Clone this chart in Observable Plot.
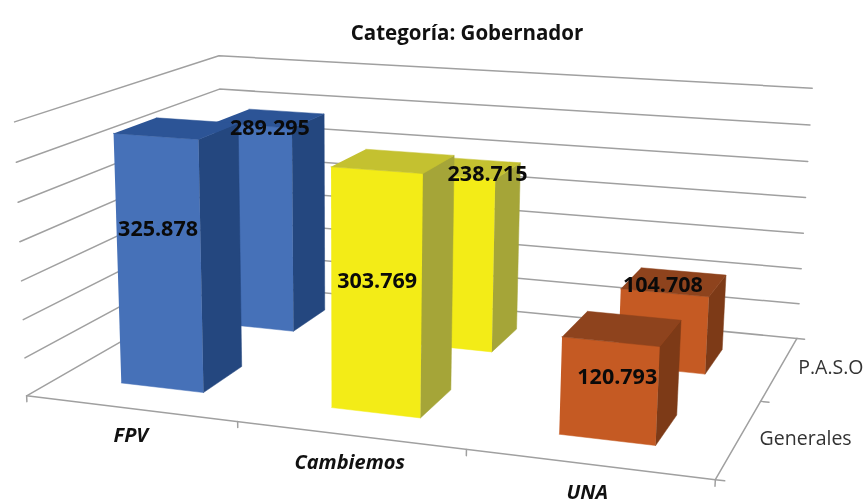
<!DOCTYPE html>
<html><head><meta charset="utf-8">
<script src="https://cdn.jsdelivr.net/npm/d3@7"></script>
<script src="https://cdn.jsdelivr.net/npm/@observablehq/plot@0.6"></script>
<style>html,body{margin:0;padding:0;background:#fff}svg{display:block}</style>
</head><body><div id="chart"></div>
<script>
const title = "Categoría: Gobernador";
const categories = ["FPV", "Cambiemos", "UNA"];
const seriesNames = ["Generales", "P.A.S.O"];
const generales = [325878, 303769, 120793];
const paso = [289295, 238715, 104708];
const valueLabels = [["325.878","303.769","120.793"],["289.295","238.715","104.708"]];
const levels = [0, 50000, 100000, 150000, 200000, 250000, 300000, 350000];
const maxValue = 350000;
const frontColors = ["#4671b8", "#f3ec17", "#c55a23"];
const sideColors = ["#24477f", "#a5a538", "#7d3a17"];
const topColors = ["#2c5496", "#c4c130", "#8e431d"];
// label placement: share of bar height on the front face, px nudge
const labelFrac = [[0.64, 0.55, 0.64], [0.985, 1.015, 1.1]];
const labelNudge = [[0, 1, 8], [17, 34, -2]];
const seriesNudge = [3, -6];

// Camera calibrated on the chart box corners: [u, d, v] -> screen
const cal = [
  [0,0,0,28,394],[1,0,0,715,480],[1,1,0,797,337],[0,1,0,220,284],
  [0,0,1,12,122],[0,1,1,220,55],[1,1,1,811,88],[0,1,6/7,220,88]
];
function solve(A, b) {
  const n = b.length, M = A.map((r, i) => [...r, b[i]]);
  for (let c = 0; c < n; c++) {
    let p = c; for (let r = c + 1; r < n; r++) if (Math.abs(M[r][c]) > Math.abs(M[p][c])) p = r;
    [M[c], M[p]] = [M[p], M[c]];
    for (let r = 0; r < n; r++) if (r !== c) { const f = M[r][c] / M[c][c]; for (let k = c; k <= n; k++) M[r][k] -= f * M[c][k]; }
  }
  return M.map((r, i) => r[n] / r[i]);
}
const rows = [], rhs = [];
for (const [u, d, v, x, y] of cal) {
  rows.push([u, d, v, 1, 0, 0, 0, 0, -x*u, -x*d, -x*v]); rhs.push(x);
  rows.push([0, 0, 0, 0, u, d, v, 1, -y*u, -y*d, -y*v]); rhs.push(y);
}
const ATA = d3.range(11).map(i => d3.range(11).map(j => d3.sum(rows, r => r[i]*r[j])));
const ATb = d3.range(11).map(i => d3.sum(rows, (r, k) => r[i]*rhs[k]));
const P = solve(ATA, ATb);
function project(u, d, v) {
  const w = P[8]*u + P[9]*d + P[10]*v + 1;
  return { x: (P[0]*u + P[1]*d + P[2]*v + P[3]) / w, y: (P[4]*u + P[5]*d + P[6]*v + P[7]) / w };
}
const gapU = 0.3, gapD = 0.3;
const marks = [];
const seg = (pts, o) => Plot.line(pts.map(p => project(...p)), {x: "x", y: "y", stroke: "#a0a0a0", strokeWidth: 1.5, ...o});

for (const lv of levels) {
  const v = lv / maxValue;
  marks.push(seg([[0,0,v],[0,1,v],[1,1,v]]));
}
marks.push(seg([[0,0,0],[1,0,0],[1,1,0]]));
for (const i of [0,1,2,3]) marks.push(seg([[i/3,0,0],[i/3,0,-0.022]]));
for (const j of [0,1,2]) marks.push(seg([[1,j/2,0],[1.012,j/2,0]]));

function face(pts, fill) {
  return Plot.line(pts.map(p => project(...p)), {x:"x", y:"y", fill, stroke: fill, strokeWidth: 0.5});
}
const texts = [];
[paso, generales].forEach((vals, k) => {
  const s = k === 0 ? 1 : 0;  // depth slot: P.A.S.O behind, Generales in front
  vals.forEach((val, i) => {
    const u0 = (i + gapU) / 3, u1 = (i + 1 - gapU) / 3;
    const d0 = (s + gapD) / 2, d1 = (s + 1 - gapD) / 2;
    const h = val / maxValue;
    marks.push(face([[u0,d0,0],[u1,d0,0],[u1,d0,h],[u0,d0,h]], frontColors[i]));
    marks.push(face([[u1,d0,0],[u1,d1,0],[u1,d1,h],[u1,d0,h]], sideColors[i]));
    marks.push(face([[u0,d0,h],[u1,d0,h],[u1,d1,h],[u0,d1,h]], topColors[i]));
    const row = k === 0 ? 1 : 0;
    texts.push({
      ...project((u0+u1)/2, d0, h*labelFrac[row][i]),
      text: valueLabels[row][i], dx: labelNudge[row][i]
    });
  });
});
for (const t of texts) {
  marks.push(Plot.text([t], {x:"x", y:"y", text:"text", dx:t.dx, fontSize:21.5, fontWeight:700, fill:"#0a0a0a", fontFamily:"'Open Sans'"}));
}
const catLabels = categories.map((c, i) => ({...project((i+0.5)/3, 0, -0.1), text:c}));
marks.push(Plot.text(catLabels, {x:"x", y:"y", text:"text", fontSize:20, fontWeight:700, fontStyle:"italic", fill:"#111", fontFamily:"'Open Sans'"}));
seriesNames.forEach((c, j) => {
  marks.push(Plot.text([{...project(1.085, (j+0.5)/2, 0), text:c}], {x:"x", y:"y", text:"text", dx:seriesNudge[j], dy:-6.5, fontSize:19.5, fill:"#333", fontFamily:"'Open Sans'"}));
});
marks.push(Plot.text([title], {frameAnchor:"top", dx:33, dy:25, fontSize:20.5, fontWeight:700, fill:"#111", fontFamily:"'Open Sans'", lineAnchor:"top"}));

document.getElementById("chart").append(Plot.plot({
  width: 867, height: 502, margin: 0,
  x: {domain:[0,867], range:[0,867], axis:null},
  y: {domain:[0,502], range:[0,502], axis:null},
  style: {background:"#fff", filter:"blur(0.3px)"},
  marks
}));
</script></body></html>
